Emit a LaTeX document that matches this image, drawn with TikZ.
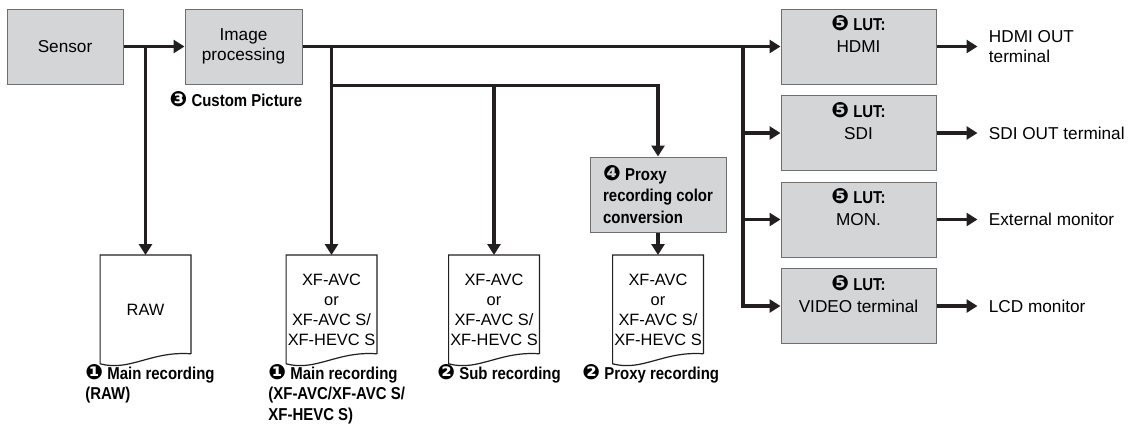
\documentclass[tikz,border=0pt]{standalone}
\usepackage{fontspec}
\setmainfont{Liberation Sans}
\newfontfamily\condfont[FakeStretch=0.87]{Liberation Sans}
\newfontfamily\dingfont{DejaVu Sans}
\usetikzlibrary{arrows.meta, positioning}

\definecolor{ink}{HTML}{231F20}
\definecolor{boxgray}{HTML}{D4D5D7}
\definecolor{boxedge}{HTML}{6D6E71}

\newcommand{\cnum}[1]{{\dingfont\fontsize{10.5}{10}\selectfont#1}}
\newcommand{\boldtxt}[1]{{\condfont\bfseries#1}}
% page outline with a wavy lower edge
\newcommand{\docoutline}[1]{%
  \draw[docedge] ([yshift=5pt]#1.south east) -- (#1.north east) -- (#1.north west) -- (#1.south west)
    .. controls +(30,8) and +(-40,-3) .. ([yshift=5pt]#1.south east);}

\begin{document}
\begin{tikzpicture}[
    x=0.5pt, y=-0.5pt,
    font=\fontsize{8.6}{10}\selectfont,
    block/.style={rectangle, draw=boxedge, fill=boxgray, line width=0.5pt, inner sep=0pt, minimum height=37.5pt, align=center},
    lutbox/.style={block, minimum width=77.5pt},
    docpage/.style={rectangle, inner sep=0pt, minimum width=45pt, minimum height=54pt, align=center, font=\fontsize{8.2}{10}\selectfont},
    docedge/.style={draw=ink, line width=0.6pt},
    arrow/.style={-{Triangle[length=5.5pt, width=6.5pt]}, line width=1.9pt, draw=ink},
    note/.style={inner sep=0pt, align=left, font=\condfont\bfseries\fontsize{8.6}{10.25}\selectfont},
    outtext/.style={inner xsep=5.5pt, inner ysep=0pt, align=left},
    lutlabel/.style={anchor=north, inner sep=0pt, yshift=-3.5pt, align=center, font=\fontsize{8.6}{11}\selectfont}
]
\useasboundingbox (0,0) rectangle (1140,436);

% camera chain
\node[block, minimum width=58pt] (sensor) at (65,46.5) {Sensor};
\node[block, minimum width=58.5pt] (improc) at (243.5,46.5) {Image\\processing};
\node[note, anchor=north east] (cpnote) at ([yshift=-3.5pt]improc.south east) {\cnum{❸} Custom Picture};

% LUT outputs
\node[lutbox, label={[lutlabel]north:{\boldtxt{\cnum{❺} LUT:}\\HDMI}}] (hdmi) at (858.5,46.5) {};
\node[lutbox, below=5.25pt of hdmi, label={[lutlabel]north:{\boldtxt{\cnum{❺} LUT:}\\SDI}}] (sdi) {};
\node[lutbox, below=5.25pt of sdi, label={[lutlabel]north:{\boldtxt{\cnum{❺} LUT:}\\MON.}}] (mon) {};
\node[lutbox, below=5.25pt of mon, label={[lutlabel]north:{\boldtxt{\cnum{❺} LUT:}\\VIDEO terminal}}] (video) {};
\node[outtext, right=20.5pt of hdmi] (hdmi-out) {HDMI OUT\\terminal};
\node[outtext, right=20.5pt of sdi] (sdi-out) {SDI OUT terminal};
\node[outtext, right=20.5pt of mon] (mon-out) {External monitor};
\node[outtext, right=20.5pt of video] (video-out) {LCD monitor};

% recordings
\node[docpage, anchor=north] (rawdoc) at (145.5,255) {RAW};
\node[docpage, anchor=north] (maindoc) at (331.5,255) {XF-AVC\\or\\XF-AVC S/\\XF-HEVC S};
\node[docpage, anchor=north] (subdoc) at (494,255) {XF-AVC\\or\\XF-AVC S/\\XF-HEVC S};
\node[block, minimum width=68pt, align=left, font=\condfont\bfseries\fontsize{8.6}{10.75}\selectfont] (conv) at (658,194.5) {\cnum{❹} Proxy\\recording color\\conversion};
\node[docpage, anchor=north] (proxydoc) at (658,255) {XF-AVC\\or\\XF-AVC S/\\XF-HEVC S};
\docoutline{rawdoc}
\docoutline{maindoc}
\docoutline{subdoc}
\docoutline{proxydoc}

\node[note, anchor=north west] (rawnote) at (85,364) {\cnum{❶} Main recording\\(RAW)};
\node[note, anchor=north west] (mainnote) at (268,364) {\cnum{❶} Main recording\\(XF-AVC/XF-AVC S/\\XF-HEVC S)};
\node[note, anchor=north west] (subnote) at (437,364) {\cnum{❷} Sub recording};
\node[note, anchor=north west] (proxynote) at (582,364) {\cnum{❷} Proxy recording};

% signal lines
\coordinate (rawtap) at (145.5,46.5);
\coordinate (maintap) at (331.5,46.5);
\coordinate (proxytap) at (331.5,85.5);
\coordinate (lutbus) at (743,46.5);

\draw[arrow] (sensor) -- (improc);
\draw[arrow] (improc) -- (hdmi);
\draw[arrow] (rawtap) -- (rawdoc);
\draw[arrow] (maintap) -- (maindoc);
\draw[arrow] (proxytap) -| (conv);
\draw[arrow] (proxytap -| subdoc) -- (subdoc);
\draw[arrow] (conv) -- (proxydoc);
\draw[arrow] (lutbus) |- (video);
\draw[arrow] (lutbus |- sdi) -- (sdi);
\draw[arrow] (lutbus |- mon) -- (mon);
\foreach \b in {hdmi,sdi,mon,video}
  \draw[arrow] (\b) -- (\b-out);
\end{tikzpicture}
\end{document}
